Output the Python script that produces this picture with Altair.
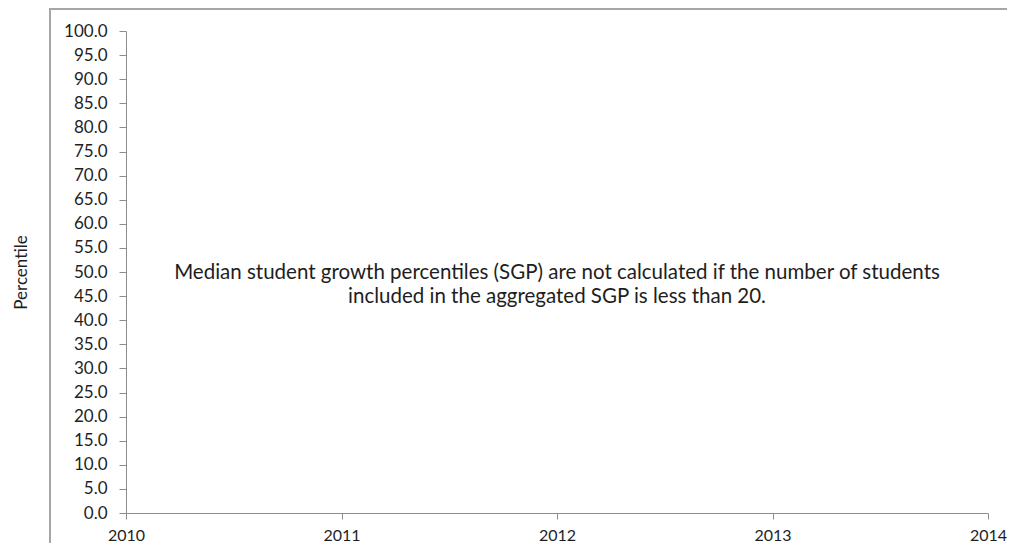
import altair as alt
import pandas as pd

# Data
years = [2010, 2011, 2012, 2013, 2014]
y_ticks = [v * 5 for v in range(21)]
note_lines = [
    "Median student growth percentiles (SGP) are not calculated if the number of students",
    "included in the aggregated SGP is less than 20.",
]
note_x = [2012]
note_y = [49.8]

FONT = "Lato"
AXIS_COLOR = "#8c8c8c"
TEXT_COLOR = "#1e1e1e"
FRAME_COLOR = "#a6a6a6"

x_scale = alt.Scale(domain=[years[0], years[-1]], nice=False, zero=False)
y_scale = alt.Scale(domain=[0, 100], nice=False)

note_df = pd.DataFrame({"x": note_x, "y": note_y, "text": [note_lines]})
one = pd.DataFrame({"k": [0]})

frame_top = alt.Chart(one).mark_rule(
    stroke=FRAME_COLOR, strokeWidth=2, clip=False
).encode(x=alt.value(-76), x2=alt.value(1400), y=alt.value(-22))

frame_left = alt.Chart(one).mark_rule(
    stroke=FRAME_COLOR, strokeWidth=2, clip=False
).encode(x=alt.value(-76), y=alt.value(-23), y2=alt.value(512))

note = alt.Chart(note_df).mark_text(
    font=FONT, fontSize=20.5, color=TEXT_COLOR, align="center", baseline="middle",
    lineHeight=24,
).encode(
    x=alt.X("x:Q", scale=x_scale,
            axis=alt.Axis(values=years, format="d", title=None, grid=False,
                          domainColor=AXIS_COLOR, tickColor=AXIS_COLOR,
                          tickSize=6, labelPadding=8, labelFont=FONT,
                          labelFontSize=16, labelColor=TEXT_COLOR,
                          labelFlush=False)),
    y=alt.Y("y:Q", scale=y_scale,
            axis=alt.Axis(values=y_ticks, format=".1f", title="Percentile",
                          grid=False, domainColor=AXIS_COLOR, tickColor=AXIS_COLOR,
                          tickSize=7, labelPadding=12, labelFont=FONT,
                          labelFontSize=17, labelColor=TEXT_COLOR,
                          titleFont=FONT, titleFontSize=17, titleFontWeight="normal",
                          titleColor=TEXT_COLOR, titleAngle=-90, titleX=-105,
                          titleY=241, titleAlign="center", titleBaseline="middle")),
    text="text",
)

chart = alt.layer(frame_top, frame_left, note).properties(
    width=862, height=482,
    autosize=alt.AutoSizeParams(type="none"),
    padding={"left": 118, "top": 23, "right": 19, "bottom": 31},
).configure_view(stroke=None)

chart.save("out.html", embed_options={"renderer": "svg", "actions": False})
